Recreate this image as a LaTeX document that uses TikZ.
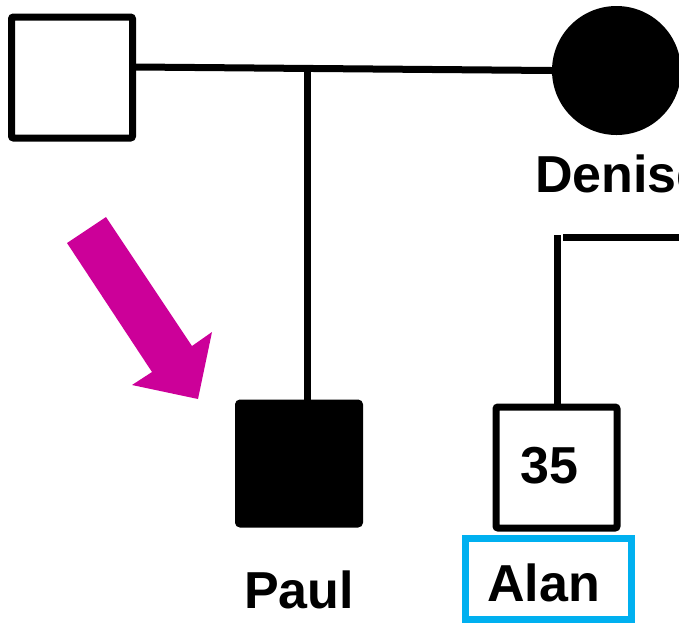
\documentclass[tikz,border=0pt]{standalone}
\usepackage{fontspec}
\setmainfont{Liberation Sans}
\definecolor{probandmagenta}{RGB}{204,0,153}
\definecolor{namecyan}{RGB}{0,176,240}
\begin{document}
\begin{tikzpicture}[x=1pt,y=-1pt,
  person/.style={draw=black,line width=7pt,rounded corners=2pt,minimum size=121pt,inner sep=0pt},
  affected/.style={person,fill=black},
  line/.style={line width=7pt},
  lbl/.style={font=\fontsize{52}{60}\bfseries\selectfont,inner sep=0pt}]
\useasboundingbox (0,0) rectangle (679,625);
\clip (0,0) rectangle (679,625);
% individuals
\node[person] (father) at (72,77.5) {};
\node[circle,fill=black,minimum size=129pt,inner sep=0pt] (denise) at (616.5,70.5) {};
\node[affected] (paul) at (299,463.5) {};
\node[person] (alan) at (556.5,467.5) {};
% labels
\node[lbl,anchor=base west] (denisename) at (535,192) {Denise};
\node[lbl,anchor=base] (paulname) at (299,608) {Paul};
\node[lbl,anchor=base] (age) at (549,483) {35};
\node[lbl,anchor=base west] (alanname) at (487,601) {Alan};
\draw[draw=namecyan,line width=7pt] (465.5,538.5) rectangle (631.5,619.5);
% mating line and descent
\draw[line] ([yshift=10.5pt]father.east) -- (denise.west);
\coordinate (sib) at (307,68.5);
\draw[line] (sib) -- (paul.north -| sib);
\coordinate (alantop) at (557,235);
\draw[line] (alantop) -- (alan.north -| alantop);
\coordinate (rline) at (563,237);
\coordinate (rend) at (679,237);
\draw[line] (rline) -- (rend);
% proband arrow
\fill[probandmagenta]
  (67,243) -- (106,217) -- (192,346) -- (212,332) -- (198,399) -- (132,385) -- (152,372) -- cycle;
\end{tikzpicture}
\end{document}
